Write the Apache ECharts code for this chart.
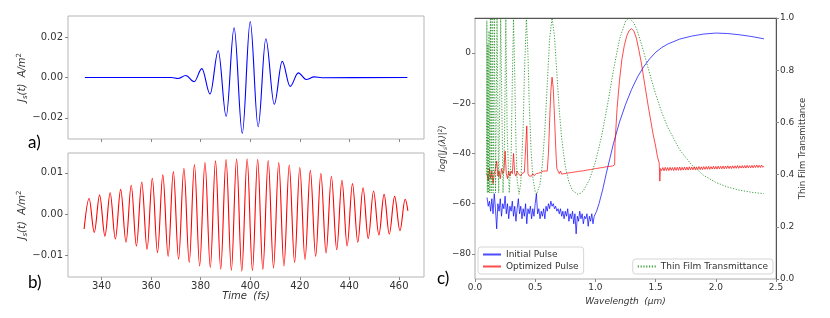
<!DOCTYPE html>
<html><head><meta charset="utf-8">
<script src="https://cdn.jsdelivr.net/npm/echarts@6/dist/echarts.min.js"></script>
<style>html,body{margin:0;padding:0;background:#fff}#c{width:830px;height:318px}</style>
</head><body><div id="c"></div>
<script>
// ---------- tick labels ----------
const timeTicks = [340, 360, 380, 400, 420, 440, 460];
const pulseATicks = [-0.02, 0, 0.02];
const pulseBTicks = [-0.01, 0, 0.01];
const spectrumTicks = [-80, -60, -40, -20, 0];

// ---------- panel a : initial pulse (extrema) ----------
const pulseATime = [333.3, 368.2, 370.9, 374.0, 377.4, 380.5, 383.8, 387.1, 390.3, 393.5, 396.8, 400.0, 403.2, 406.3, 409.7, 412.9, 416.1, 419.4, 422.6, 425.8, 428.9, 463.4];
const pulseAValue = [0, 0, -0.0005, 0.0010, -0.0021, 0.0044, -0.0082, 0.0133, -0.0193, 0.0246, -0.0277, 0.0277, -0.0244, 0.0192, -0.0133, 0.0080, -0.0044, 0.0023, -0.0010, 0.0003, -0.0001, 0];

// ---------- panel b : optimized pulse (extrema) ----------
const pulseBTime = [333.0, 335.0, 337.1, 339.25, 341.4, 343.5, 345.6, 347.75, 349.9, 352.0, 354.1, 356.25, 358.4, 360.5, 362.6, 364.75, 366.9, 369.0, 371.1, 373.25, 375.4, 377.5, 379.6, 381.75, 383.9, 386.0, 388.1, 390.25, 392.4, 394.5, 396.6, 398.75, 400.9, 403.0, 405.1, 407.25, 409.4, 411.5, 413.6, 415.75, 417.9, 420.0, 422.1, 424.25, 426.4, 428.5, 430.6, 432.75, 434.9, 437.0, 439.1, 441.25, 443.4, 445.5, 447.6, 449.75, 451.9, 454.0, 456.1, 458.25, 460.4, 462.5, 463.6];
const pulseBValue = [-0.0036, 0.0038, -0.0044, 0.0046, -0.0053, 0.0052, -0.0060, 0.0060, -0.0068, 0.0070, -0.0077, 0.0078, -0.0085, 0.0087, -0.0093, 0.0095, -0.0102, 0.0103, -0.0109, 0.0111, -0.0117, 0.0120, -0.0125, 0.0125, -0.0129, 0.0129, -0.0133, 0.0132, -0.0136, 0.0134, -0.0138, 0.0134, -0.0137, 0.0133, -0.0134, 0.0130, -0.0130, 0.0125, -0.0125, 0.0119, -0.0117, 0.0113, -0.0110, 0.0106, -0.0102, 0.0099, -0.0094, 0.0091, -0.0086, 0.0082, -0.0077, 0.0074, -0.0068, 0.0064, -0.0059, 0.0056, -0.0050, 0.0048, -0.0048, 0.0043, -0.0040, 0.0036, 0.0008];

// ---------- panel c : spectra ----------
// initial pulse, noisy part sampled every 0.01 um from 0.10
const blueNoiseStart = 0.10, blueNoiseStep = 0.01;
const blueNoise = [-57.5, -61, -59, -63, -58, -64, -56, -62, -70, -60, -63, -58, -65, -60, -62, -57, -64, -60, -66, -61, -63, -59, -65, -61, -67, -62, -58, -64, -61, -66, -62, -65, -60, -68, -62, -64, -61, -66, -62, -65, -60, -56, -64, -62, -66, -63, -65, -62, -66, -61, -63, -60, -62, -59, -61, -60, -62, -61, -63, -62, -64, -62, -65, -63, -66, -63, -65, -62, -67, -64, -66, -63, -68, -64, -72, -65, -67, -63, -66, -64, -68, -65, -66, -64, -69, -65, -67, -64, -68, -65, -64.5];
const blueRiseLambda = [1.01, 1.03, 1.06, 1.09, 1.12, 1.15, 1.20, 1.25, 1.30, 1.35, 1.40, 1.45, 1.50, 1.55, 1.60, 1.70, 1.80, 1.90, 2.00, 2.10, 2.20, 2.30, 2.40];
const blueRiseValue = [-63, -60, -54.5, -48, -42, -36, -27.5, -20.5, -14.5, -9.5, -5.5, -2.3, 0.3, 2.2, 3.6, 5.6, 6.8, 7.6, 8.0, 7.8, 7.3, 6.6, 5.7];

// optimized pulse
const redNoiseStart = 0.10, redNoiseStep = 0.01;
const redNoise = [-48, -51, -46, -50, -47, -52, -48, -46, -43, -49, -47, -50, -46, -48, -47, -39, -48, -50, -47, -49, -47, -48, -40, -48, -49, -47, -48, -47.5, -49, -48, -48.5, -47.5, -48, -29, -48, -49, -48.5, -49, -48, -48.8, -48.2, -48, -47.6, -47.8, -47.2, -47.4, -46.8, -47];
const redPeak1Lambda = [0.58, 0.60, 0.61, 0.62, 0.63, 0.64, 0.65, 0.66, 0.67, 0.675, 0.68];
const redPeak1Value = [-46.5, -47, -40, -27, -15, -9.6, -14, -25, -37, -42, -46];
const redBaseStart = 0.69, redBaseStep = 0.01;
const redBase = [-46, -48, -47, -48.2, -47.6, -48, -47.5, -47.9, -47.3, -47.7, -47.2, -47.6, -47.0, -47.4, -46.9, -47.3, -46.8, -47.1, -46.6, -47.0, -46.5, -46.9, -46.3, -46.7, -46.2, -46.5, -46.0, -46.4, -45.8, -46.2, -45.7, -46.0, -45.5, -45.9, -45.4, -45.7, -45.2, -45.6, -45.0, -45.4, -44.9, -45.2, -44.8, -45.1, -44.7, -45.0, -44.8];
const redPeak2Lambda = [1.16, 1.163, 1.18, 1.20, 1.22, 1.24, 1.26, 1.28, 1.30, 1.32, 1.34, 1.36, 1.38, 1.40, 1.42, 1.44, 1.46, 1.48, 1.50, 1.515, 1.53, 1.535, 1.54];
const redPeak2Value = [-44.5, -36, -22, -11, -2.5, 3, 6.8, 9, 9.7, 8.8, 6, 1.5, -3.5, -9.5, -15.5, -21.5, -27, -32.5, -37, -41.2, -43.8, -51, -46];
const redRippleStart = 1.55, redRippleStep = 0.01;
const redRipple = [-46.8, -45.6, -46.9, -45.5, -46.8, -45.6, -46.8, -45.5, -46.7, -45.6, -46.8, -45.5, -46.7, -45.5, -46.7, -45.4, -46.7, -45.5, -46.6, -45.4, -46.6, -45.4, -46.6, -45.3, -46.5, -45.4, -46.5, -45.3, -46.5, -45.3, -46.4, -45.2, -46.4, -45.3, -46.4, -45.2, -46.3, -45.2, -46.3, -45.1, -46.3, -45.2, -46.2, -45.1, -46.2, -45.1, -46.2, -45.0, -46.1, -45.1, -46.1, -45.0, -46.1, -45.0, -46.0, -44.9, -46.0, -45.0, -46.0, -44.9, -45.9, -44.9, -45.9, -44.8, -45.9, -44.9, -45.8, -44.8, -45.8, -44.8, -45.8, -44.7, -45.7, -44.8, -45.7, -44.7, -45.7, -44.7, -45.6, -44.6, -45.6, -44.7, -45.6, -44.6, -45.5, -45.0];

// thin film transmittance
const transLambda = [0.095, 0.0985, 0.1024, 0.1067, 0.1113, 0.1164, 0.1219, 0.128, 0.1347, 0.1422, 0.1506, 0.16, 0.1707, 0.1829, 0.1969, 0.2133, 0.2327, 0.245, 0.256, 0.267, 0.2844, 0.30, 0.31, 0.32, 0.33, 0.34, 0.35, 0.3657, 0.38, 0.40, 0.41, 0.4267, 0.44, 0.45, 0.465, 0.48, 0.50, 0.512, 0.52, 0.54, 0.56, 0.58, 0.60, 0.62, 0.64, 0.66, 0.68, 0.70, 0.72, 0.75, 0.78, 0.81, 0.853, 0.88, 0.90, 0.95, 1.00, 1.05, 1.10, 1.15, 1.20, 1.25, 1.28, 1.32, 1.35, 1.40, 1.45, 1.50, 1.55, 1.60, 1.70, 1.80, 1.90, 2.00, 2.10, 2.20, 2.30, 2.40];
const transValue = [0.40, 0.99, 0.33, 0.90, 0.33, 0.95, 0.33, 1.0, 0.33, 1.0, 0.33, 1.0, 0.33, 1.0, 0.33, 1.0, 0.33, 0.53, 1.0, 0.57, 0.33, 0.47, 0.76, 1.0, 0.78, 0.52, 0.38, 0.325, 0.365, 0.58, 0.78, 1.0, 0.86, 0.68, 0.50, 0.39, 0.335, 0.325, 0.328, 0.363, 0.441, 0.568, 0.744, 0.922, 1.0, 0.931, 0.786, 0.646, 0.538, 0.432, 0.371, 0.339, 0.325, 0.329, 0.338, 0.380, 0.448, 0.544, 0.665, 0.80, 0.918, 0.988, 1.0, 0.981, 0.949, 0.872, 0.788, 0.709, 0.64, 0.582, 0.495, 0.437, 0.397, 0.370, 0.352, 0.340, 0.332, 0.327];

// ---------- helpers ----------
const zip = (xs, ys) => xs.map((x, i) => [x, ys[i]]);
const sampled = (start, step, vals) => vals.map((v, i) => [+(start + i * step).toFixed(4), v]);
const minus = s => s.replace('-', '\u2212');
const fmt2 = v => minus(v.toFixed(2)).replace('\u22120.00', '0.00');
const fmt1 = v => v.toFixed(1);
const fmt0 = v => minus(String(Math.round(v)));

const blueData = sampled(blueNoiseStart, blueNoiseStep, blueNoise).concat(zip(blueRiseLambda, blueRiseValue));
const redData = sampled(redNoiseStart, redNoiseStep, redNoise)
  .concat(zip(redPeak1Lambda, redPeak1Value))
  .concat(sampled(redBaseStart, redBaseStep, redBase))
  .concat(zip(redPeak2Lambda, redPeak2Value))
  .concat(sampled(redRippleStart, redRippleStep, redRipple));
const transData = zip(transLambda, transValue);

const FF = 'DejaVu Sans';
const TXT = '#333';
const tickStyle = { length: 3, lineStyle: { color: '#888', width: 1 } };
const noLine = { show: false, onZero: false };
const labelBase = { fontFamily: FF, fontSize: 10, color: TXT };
const labelC = { fontFamily: FF, fontSize: 9, color: TXT };
const richJ = (size) => ({
  i: { fontFamily: FF, fontStyle: 'italic', fontSize: size, color: TXT },
  s: { fontFamily: FF, fontStyle: 'italic', fontSize: size * 0.7, color: TXT, padding: [size * 0.55, 0, 0, 0] },
  p: { fontFamily: FF, fontSize: size * 0.7, color: TXT, padding: [0, 0, size * 0.55, 0] }
});
const legendCommon = {
  orient: 'vertical', itemWidth: 18, itemHeight: 8, padding: [3, 5, 3, 4], backgroundColor: '#fff',
  borderColor: '#d5d5d5', borderWidth: 1, borderRadius: 3, itemStyle: { opacity: 0 },
  textStyle: { fontFamily: FF, fontSize: 9, color: TXT }
};

const chart = echarts.init(document.getElementById('c'));
chart.setOption({
  animation: false,
  backgroundColor: '#fff',
  grid: [
    { left: 68, top: 16, width: 356, height: 123, show: true, borderColor: '#b5b5b5', borderWidth: 1 },
    { left: 68, top: 153, width: 356, height: 124, show: true, borderColor: '#b5b5b5', borderWidth: 1 },
    { left: 475, top: 18, width: 301, height: 261, show: true, borderColor: '#aaa', borderWidth: 1 }
  ],
  xAxis: [
    { gridIndex: 0, type: 'value', min: 326.5, max: 470.1, axisLine: noLine, splitLine: { show: false },
      axisTick: Object.assign({ customValues: timeTicks }, tickStyle), axisLabel: { show: false } },
    { gridIndex: 1, type: 'value', min: 326.5, max: 470.1, axisLine: noLine, splitLine: { show: false },
      axisTick: Object.assign({ customValues: timeTicks }, tickStyle),
      axisLabel: Object.assign({ customValues: timeTicks, margin: 4 }, labelBase),
      name: 'Time  (fs)', nameLocation: 'middle', nameGap: 14,
      nameTextStyle: { fontFamily: FF, fontStyle: 'italic', fontSize: 10, color: TXT } },
    { gridIndex: 2, type: 'value', min: 0, max: 2.5, interval: 0.5, axisLine: noLine, splitLine: { show: false },
      axisTick: tickStyle, axisLabel: Object.assign({ formatter: fmt1, margin: 4 }, labelC),
      name: 'Wavelength  (\u03bcm)', nameLocation: 'middle', nameGap: 13,
      nameTextStyle: { fontFamily: FF, fontStyle: 'italic', fontSize: 9, color: TXT } },
    { gridIndex: 2, type: 'value', position: 'top', min: 0, max: 2.5,
      axisLine: { show: true, onZero: false, lineStyle: { color: '#555' } },
      splitLine: { show: false }, axisTick: { show: false }, axisLabel: { show: false } }
  ],
  yAxis: [
    { gridIndex: 0, type: 'value', min: -0.0305, max: 0.0305, axisLine: noLine, splitLine: { show: false },
      axisTick: Object.assign({ customValues: pulseATicks }, tickStyle),
      axisLabel: Object.assign({ customValues: pulseATicks, formatter: fmt2, margin: 5 }, labelBase),
      name: '{i|J}{s|s}{i|(t)  A/m}{p|2}', nameLocation: 'middle', nameGap: 32, nameRotate: 90,
      nameTextStyle: { rich: richJ(10) } },
    { gridIndex: 1, type: 'value', min: -0.0152, max: 0.0148, axisLine: noLine, splitLine: { show: false },
      axisTick: Object.assign({ customValues: pulseBTicks }, tickStyle),
      axisLabel: Object.assign({ customValues: pulseBTicks, formatter: fmt2, margin: 5 }, labelBase),
      name: '{i|J}{s|s}{i|(t)  A/m}{p|2}', nameLocation: 'middle', nameGap: 32, nameRotate: 90,
      nameTextStyle: { rich: richJ(10) } },
    { gridIndex: 2, type: 'value', min: -90, max: 14, axisLine: noLine, splitLine: { show: false },
      axisTick: Object.assign({ customValues: spectrumTicks }, tickStyle),
      axisLabel: Object.assign({ customValues: spectrumTicks, formatter: fmt0, margin: 4 }, labelC),
      name: '{i|log(|J}{s|s}{i|(\u03bb)|}{p|2}{i|)}', nameLocation: 'middle', nameGap: 24, nameRotate: 90,
      nameTextStyle: { rich: richJ(8.5) } },
    { gridIndex: 2, type: 'value', position: 'right', min: 0, max: 1, interval: 0.2,
      axisLine: { show: true, onZero: false, lineStyle: { color: '#555' } }, splitLine: { show: false },
      axisTick: tickStyle, axisLabel: Object.assign({ formatter: fmt1, margin: 4 }, labelC),
      name: 'Thin Film Transmittance', nameLocation: 'middle', nameGap: 18, nameRotate: 90,
      nameTextStyle: { fontFamily: FF, fontSize: 8.5, color: TXT } }
  ],
  legend: [
    Object.assign({ data: ['Initial Pulse', 'Optimized Pulse'], left: 478, top: 247, itemGap: 3 }, legendCommon),
    Object.assign({ data: ['Thin Film Transmittance'], right: 57, top: 259 }, legendCommon)
  ],
  series: [
    { type: 'line', xAxisIndex: 0, yAxisIndex: 0, data: zip(pulseATime, pulseAValue), symbol: 'none',
      smooth: 0.36, smoothMonotone: 'x', color: '#0000ff', lineStyle: { color: '#0000ff', width: 1.1 } },
    { type: 'line', xAxisIndex: 1, yAxisIndex: 1, data: zip(pulseBTime, pulseBValue), symbol: 'none',
      smooth: 0.36, smoothMonotone: 'x', color: '#ff0000', lineStyle: { color: '#ff0000', width: 1.1 } },
    { name: 'Initial Pulse', type: 'line', xAxisIndex: 2, yAxisIndex: 2, data: blueData, symbol: 'none',
      color: 'rgba(0,0,255,0.7)', lineStyle: { width: 1 } },
    { name: 'Optimized Pulse', type: 'line', xAxisIndex: 2, yAxisIndex: 2, data: redData, symbol: 'none',
      color: 'rgba(255,0,0,0.7)', lineStyle: { width: 1 } },
    { name: 'Thin Film Transmittance', type: 'line', xAxisIndex: 2, yAxisIndex: 3, data: transData, symbol: 'none',
      color: 'rgba(0,128,0,0.75)', lineStyle: { width: 1, type: [1.2, 1.6] } }
  ],
  graphic: [
    { type: 'text', left: 28, top: 134, style: { text: 'a)', font: '17px Lato', fill: '#000' } },
    { type: 'text', left: 28, top: 274, style: { text: 'b)', font: '17px Lato', fill: '#000' } },
    { type: 'text', left: 437, top: 270, style: { text: 'c)', font: '17px Lato', fill: '#000' } }
  ]
});
</script></body></html>
